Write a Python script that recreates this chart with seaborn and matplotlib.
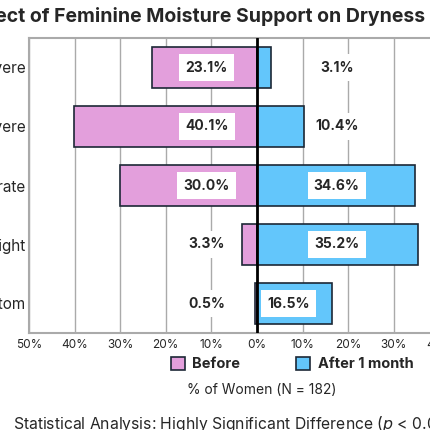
import matplotlib
matplotlib.use('Agg')
import matplotlib.pyplot as plt
import pandas as pd
import seaborn as sns

# Data
categories = ['Very Severe', 'Severe', 'Moderate', 'Slight', 'No Symptom']
before = [23.1, 40.1, 30.0, 3.3, 0.5]
after = [3.1, 10.4, 34.6, 35.2, 16.5]
groups = ['Before', 'After 1 month']
ticks = [-50, -40, -30, -20, -10, 0, 10, 20, 30, 40, 50]

pink = '#E39FDC'
blue = '#63C6FB'
edge = '#1c2836'
grid_col = '#aaaaaa'

df = pd.DataFrame({
    'category': categories * 2,
    'value': [-v for v in before] + after,
    'group': [groups[0]] * len(before) + [groups[1]] * len(after),
})

sns.set_style('white')
plt.rcParams['font.family'] = ['Inter', 'DejaVu Sans']

fig = plt.figure(figsize=(4.3, 4.3), dpi=100)
ax = fig.add_axes([29 / 430, 1 - 333 / 430, 456 / 430, 295 / 430])

sns.barplot(data=df, y='category', x='value', hue='group', order=categories,
            hue_order=groups, palette=[pink, blue], saturation=1, dodge=False,
            width=0.7, edgecolor=edge, linewidth=1.2, orient='h', ax=ax,
            zorder=3)

ax.set_xlim(-50, 50)
ax.set_ylim(4.5, -0.5)
ax.set_xticks(ticks)
ax.set_xticklabels([f'{abs(t)}%' for t in ticks], fontsize=8.5)
ax.tick_params(axis='x', length=0, pad=4)
ax.tick_params(axis='y', length=0, pad=2.5, labelsize=11)
ax.set_xlabel('')
ax.set_ylabel('')
ax.grid(axis='x', color=grid_col, linewidth=1, zorder=0)
ax.set_axisbelow(True)
for s in ax.spines.values():
    s.set_color(grid_col)
    s.set_linewidth(1.5)
ax.axvline(0, color='black', linewidth=2, zorder=5)

# value labels in white boxes
before_lab_x = -11
after_lab_x = [17.5, 17.5, 17.5, 17.5, 7]
box = dict(boxstyle='square,pad=0.45', facecolor='white', edgecolor='none')
for i in range(len(categories)):
    ax.text(before_lab_x, i, f'{before[i]:.1f}%', ha='center', va='center',
            fontsize=10, fontweight='bold', bbox=box, zorder=6)
    ax.text(after_lab_x[i], i, f'{after[i]:.1f}%', ha='center', va='center',
            fontsize=10, fontweight='bold', bbox=box, zorder=6)

sns.move_legend(ax, 'center', bbox_to_anchor=(292 / 430, 1 - 364 / 430),
                bbox_transform=fig.transFigure, ncol=2, frameon=False,
                title=None, prop={'weight': 'bold', 'size': 10.5},
                handlelength=1.0, handleheight=1.0, handletextpad=0.5,
                columnspacing=3.8)

fig.text(425 / 430, 1 - 16 / 430, 'Effect of Feminine Moisture Support on Dryness',
         ha='right', va='center', fontsize=14, fontweight='bold')
fig.text(262 / 430, 1 - 390 / 430, '% of Women (N = 182)', ha='center',
         va='center', fontsize=10)
fig.text(13 / 430, 1 - 424 / 430,
         'Statistical Analysis: Highly Significant Difference ($\\it{p}$ < 0.001)',
         ha='left', va='center', fontsize=11.3)

fig.savefig('out.png', dpi=100)
